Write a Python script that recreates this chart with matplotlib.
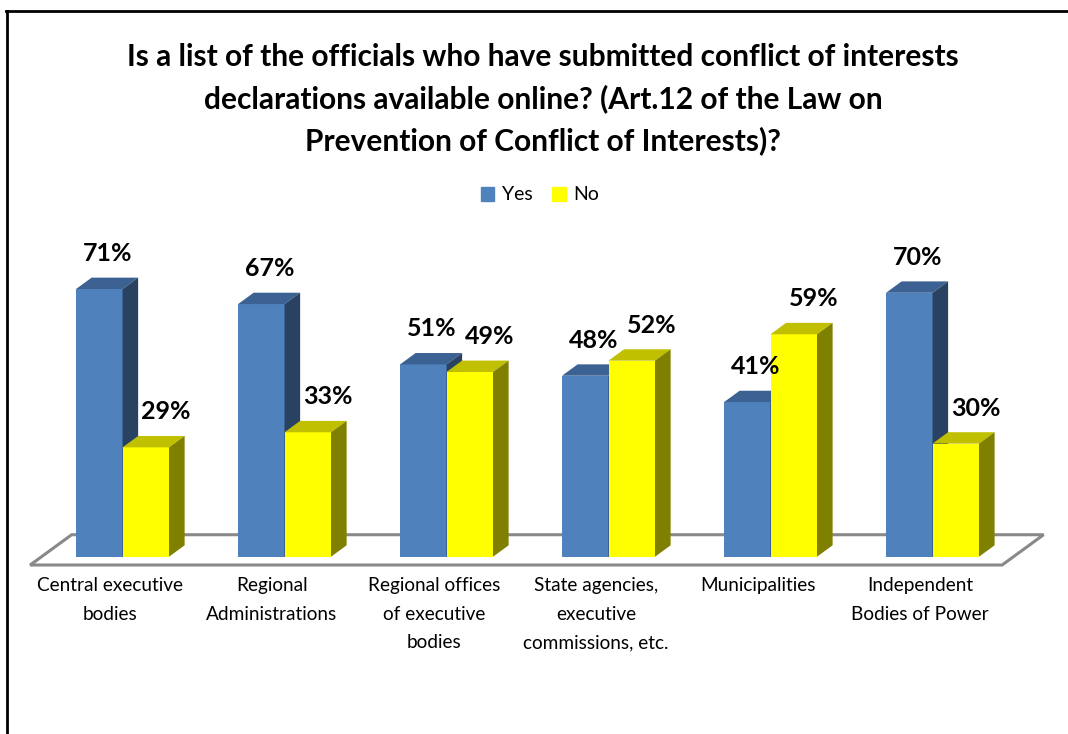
import matplotlib.pyplot as plt
from matplotlib.patches import Patch
from matplotlib.lines import Line2D

categories = [
    "Central executive\nbodies",
    "Regional\nAdministrations",
    "Regional offices\nof executive\nbodies",
    "State agencies,\nexecutive\ncommissions, etc.",
    "Municipalities",
    "Independent\nBodies of Power",
]
yes_values = [71, 67, 51, 48, 41, 70]
no_values = [29, 33, 49, 52, 59, 30]
series_names = ["Yes", "No"]
title = ("Is a list of the officials who have submitted conflict of interests\n"
         "declarations available online? (Art.12 of the Law on\n"
         "Prevention of Conflict of Interests)?")

front_colors = ["#4F81BD", "#FFFF00"]
top_colors = ["#3B6292", "#C0C000"]
side_colors = ["#2A4262", "#808000"]

plt.rcParams["font.family"] = ["Lato", "DejaVu Sans"]

W, H = 1068, 734
fig = plt.figure(figsize=(W / 100, H / 100), dpi=100)
ax = fig.add_axes([20 / W, 1 - 580 / H, 1040 / W, 340 / H])
ax.set_xlim(-0.633, 5.787)
ax.set_ylim(-6.18, 84.0)
ax.axis("off")

width = 0.287
dx, dy = 0.0963, 3.02  # 3d depth offset
label_shift = [0.05, 0.123]  # label x offset from bar centre, per series

# floor
fx0, fx1 = -0.5 - 0.73 * dx, 5.5 - 0.73 * dx
fy = -0.73 * dy
bx, by = 2.66 * dx, 2.66 * dy
ax.fill([fx0, fx1, fx1 + bx, fx0 + bx], [fy, fy, fy + by, fy + by],
        facecolor="white", edgecolor="#898989", lw=2.2, zorder=1)

for s, values in enumerate([yes_values, no_values]):
    z = 2 + s
    for i, v in enumerate(values):
        x0 = i - width if s == 0 else i
        ax.bar(x0, v, width, align="edge", color=front_colors[s], zorder=z)
        ax.fill([x0, x0 + width, x0 + width + dx, x0 + dx],
                [v, v, v + dy, v + dy], color=top_colors[s], lw=0, zorder=z)
        ax.fill([x0 + width, x0 + width + dx, x0 + width + dx, x0 + width],
                [0, dy, v + dy, v], color=side_colors[s], lw=0, zorder=z)
        ax.text(x0 + width / 2 + label_shift[s], v + dy + 6.4, f"{v}%",
                ha="center", va="center", fontsize=18, fontweight="bold", zorder=5)

for i, cat in enumerate(categories):
    ax.text(i - 0.8 * dx, -5.4, cat, ha="center", va="top", fontsize=13.7,
            linespacing=1.82)

fig.text(543 / W, 1 - 99 / H, title, ha="center", va="center", fontsize=21.5,
         fontweight="bold", linespacing=1.55)

handles = [Patch(color=c) for c in front_colors]
fig.legend(handles, series_names, loc="center", bbox_to_anchor=(540 / W, 1 - 195 / H),
           ncol=2, frameon=False, fontsize=14, handlelength=0.7, handleheight=0.7,
           handletextpad=0.4, columnspacing=1.0)

# outer frame (top and left edges visible)
fig.add_artist(Line2D([6 / W, 1], [1 - 11 / H, 1 - 11 / H], color="black", lw=2))
fig.add_artist(Line2D([7 / W, 7 / W], [0, 1 - 11 / H], color="black", lw=2))

fig.savefig("out.png", dpi=100)
